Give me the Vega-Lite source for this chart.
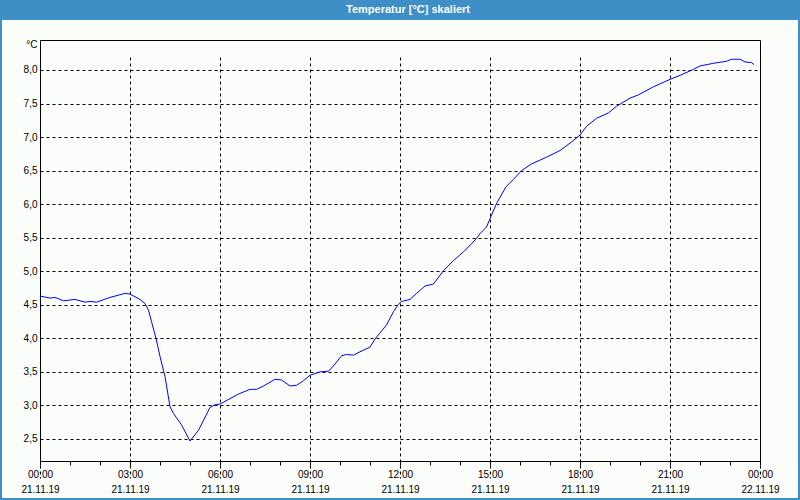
{
  "$schema": "https://vega.github.io/schema/vega-lite/v6.json",
  "width": 796,
  "height": 478,
  "autosize": {"type": "none"},
  "padding": {"left": 2, "top": 20, "right": 2, "bottom": 2},
  "background": "#3d8fc6",
  "config": {
    "view": {"fill": "#fbfdfb", "stroke": null},
    "font": "Liberation Sans"
  },
  "title": {
    "text": "Temperatur [°C] skaliert",
    "color": "#ffffff",
    "font": "Liberation Sans",
    "fontSize": 11,
    "fontWeight": "bold",
    "anchor": "middle",
    "frame": "group",
    "offset": 5,
    "dx": 8
  },
  "data": {
    "values": [
      {"t": "2019-11-21T00:00", "v": 4.63},
      {"t": "2019-11-21T00:20", "v": 4.60},
      {"t": "2019-11-21T00:30", "v": 4.61},
      {"t": "2019-11-21T00:47", "v": 4.56},
      {"t": "2019-11-21T01:10", "v": 4.58},
      {"t": "2019-11-21T01:30", "v": 4.54},
      {"t": "2019-11-21T01:40", "v": 4.55},
      {"t": "2019-11-21T01:53", "v": 4.54},
      {"t": "2019-11-21T02:20", "v": 4.61},
      {"t": "2019-11-21T02:50", "v": 4.67},
      {"t": "2019-11-21T03:00", "v": 4.66},
      {"t": "2019-11-21T03:20", "v": 4.58},
      {"t": "2019-11-21T03:30", "v": 4.52},
      {"t": "2019-11-21T03:37", "v": 4.42},
      {"t": "2019-11-21T03:43", "v": 4.25},
      {"t": "2019-11-21T03:52", "v": 4.00},
      {"t": "2019-11-21T04:00", "v": 3.73},
      {"t": "2019-11-21T04:10", "v": 3.43},
      {"t": "2019-11-21T04:20", "v": 2.98},
      {"t": "2019-11-21T04:27", "v": 2.88},
      {"t": "2019-11-21T04:43", "v": 2.71},
      {"t": "2019-11-21T05:00", "v": 2.47},
      {"t": "2019-11-21T05:17", "v": 2.63},
      {"t": "2019-11-21T05:40", "v": 2.97},
      {"t": "2019-11-21T05:50", "v": 3.01},
      {"t": "2019-11-21T06:00", "v": 3.02},
      {"t": "2019-11-21T06:37", "v": 3.17},
      {"t": "2019-11-21T07:00", "v": 3.24},
      {"t": "2019-11-21T07:13", "v": 3.24},
      {"t": "2019-11-21T07:27", "v": 3.29},
      {"t": "2019-11-21T07:50", "v": 3.39},
      {"t": "2019-11-21T08:03", "v": 3.38},
      {"t": "2019-11-21T08:20", "v": 3.29},
      {"t": "2019-11-21T08:33", "v": 3.30},
      {"t": "2019-11-21T08:47", "v": 3.37},
      {"t": "2019-11-21T09:00", "v": 3.45},
      {"t": "2019-11-21T09:20", "v": 3.50},
      {"t": "2019-11-21T09:37", "v": 3.51},
      {"t": "2019-11-21T09:47", "v": 3.59},
      {"t": "2019-11-21T10:03", "v": 3.74},
      {"t": "2019-11-21T10:13", "v": 3.76},
      {"t": "2019-11-21T10:27", "v": 3.75},
      {"t": "2019-11-21T10:40", "v": 3.80},
      {"t": "2019-11-21T11:00", "v": 3.87},
      {"t": "2019-11-21T11:10", "v": 3.99},
      {"t": "2019-11-21T11:33", "v": 4.20},
      {"t": "2019-11-21T11:47", "v": 4.40},
      {"t": "2019-11-21T11:57", "v": 4.51},
      {"t": "2019-11-21T12:03", "v": 4.55},
      {"t": "2019-11-21T12:20", "v": 4.58},
      {"t": "2019-11-21T12:33", "v": 4.67},
      {"t": "2019-11-21T12:50", "v": 4.78},
      {"t": "2019-11-21T13:07", "v": 4.81},
      {"t": "2019-11-21T13:27", "v": 5.01},
      {"t": "2019-11-21T13:47", "v": 5.16},
      {"t": "2019-11-21T14:07", "v": 5.29},
      {"t": "2019-11-21T14:23", "v": 5.41},
      {"t": "2019-11-21T14:33", "v": 5.49},
      {"t": "2019-11-21T14:40", "v": 5.56},
      {"t": "2019-11-21T14:53", "v": 5.66},
      {"t": "2019-11-21T15:13", "v": 6.01},
      {"t": "2019-11-21T15:32", "v": 6.26},
      {"t": "2019-11-21T15:47", "v": 6.37},
      {"t": "2019-11-21T16:03", "v": 6.50},
      {"t": "2019-11-21T16:23", "v": 6.60},
      {"t": "2019-11-21T16:53", "v": 6.70},
      {"t": "2019-11-21T17:20", "v": 6.80},
      {"t": "2019-11-21T17:40", "v": 6.91},
      {"t": "2019-11-21T18:00", "v": 7.03},
      {"t": "2019-11-21T18:13", "v": 7.16},
      {"t": "2019-11-21T18:33", "v": 7.28},
      {"t": "2019-11-21T18:57", "v": 7.36},
      {"t": "2019-11-21T19:13", "v": 7.46},
      {"t": "2019-11-21T19:40", "v": 7.58},
      {"t": "2019-11-21T19:57", "v": 7.63},
      {"t": "2019-11-21T20:27", "v": 7.75},
      {"t": "2019-11-21T21:00", "v": 7.86},
      {"t": "2019-11-21T21:20", "v": 7.92},
      {"t": "2019-11-21T21:47", "v": 8.01},
      {"t": "2019-11-21T22:00", "v": 8.06},
      {"t": "2019-11-21T22:27", "v": 8.10},
      {"t": "2019-11-21T22:53", "v": 8.13},
      {"t": "2019-11-21T23:03", "v": 8.16},
      {"t": "2019-11-21T23:20", "v": 8.16},
      {"t": "2019-11-21T23:30", "v": 8.12},
      {"t": "2019-11-21T23:43", "v": 8.11},
      {"t": "2019-11-21T23:48", "v": 8.08}
    ]
  },
  "resolve": {"axis": {"x": "independent", "y": "independent"}},
  "layer": [
    {
      "mark": {"type": "line", "color": "#0000ff", "strokeWidth": 1},
      "encoding": {
        "x": {
          "field": "t",
          "type": "temporal",
          "scale": {
            "domain": [
              {"year": 2019, "month": 11, "date": 21, "hours": 0},
              {"year": 2019, "month": 11, "date": 22, "hours": 0}
            ],
            "range": [38, 758],
            "nice": false
          },
          "axis": {
            "orient": "bottom",
            "offset": -37,
            "values": [
              {"year": 2019, "month": 11, "date": 21, "hours": 0},
              {"year": 2019, "month": 11, "date": 21, "hours": 3},
              {"year": 2019, "month": 11, "date": 21, "hours": 6},
              {"year": 2019, "month": 11, "date": 21, "hours": 9},
              {"year": 2019, "month": 11, "date": 21, "hours": 12},
              {"year": 2019, "month": 11, "date": 21, "hours": 15},
              {"year": 2019, "month": 11, "date": 21, "hours": 18},
              {"year": 2019, "month": 11, "date": 21, "hours": 21},
              {"year": 2019, "month": 11, "date": 22, "hours": 0}
            ],
            "labelExpr": "[timeFormat(datum.value, '%H:%M'), timeFormat(datum.value, '%d.%m.%y')]",
            "labelFlush": false,
            "labelOverlap": false,
            "labelBound": false,
            "labelAngle": 0,
            "labelAlign": "center",
            "labelBaseline": "top",
            "labelPadding": 4,
            "labelLineHeight": 15,
            "labelFont": "Liberation Sans",
            "labelFontSize": 10,
            "labelColor": "#000000",
            "ticks": true,
            "tickSize": 4,
            "tickColor": "#000000",
            "tickWidth": 1,
            "domain": true,
            "domainColor": "#000000",
            "domainWidth": 1,
            "grid": true,
            "gridColor": "#000000",
            "gridWidth": 1,
            "gridDash": [3, 3],
            "gridOpacity": 1,
            "title": null
          }
        },
        "y": {
          "field": "v",
          "type": "quantitative",
          "scale": {"domain": [2.172, 8.447], "range": [441, 20], "zero": false, "nice": false},
          "axis": {
            "orient": "left",
            "offset": -38,
            "values": [2.5, 3, 3.5, 4, 4.5, 5, 5.5, 6, 6.5, 7, 7.5, 8],
            "labelExpr": "replace(format(datum.value, '.1f'), '.', ',')",
            "labelFont": "Liberation Sans",
            "labelFontSize": 10,
            "labelColor": "#000000",
            "labelPadding": 3,
            "labelBaseline": "middle",
            "ticks": false,
            "domain": true,
            "domainColor": "#000000",
            "domainWidth": 1,
            "grid": true,
            "gridColor": "#000000",
            "gridWidth": 1,
            "gridDash": [3, 3],
            "gridOpacity": 1,
            "title": "°C",
            "titleAngle": 0,
            "titleX": -3,
            "titleY": 24,
            "titleAlign": "right",
            "titleBaseline": "middle",
            "titleFont": "Liberation Sans",
            "titleFontSize": 10,
            "titleFontWeight": "normal",
            "titleColor": "#000000"
          }
        }
      }
    },
    {
      "mark": {"type": "line", "strokeOpacity": 0},
      "encoding": {
        "x": {
          "field": "t",
          "type": "temporal",
          "axis": {
            "orient": "bottom",
            "offset": -37,
            "values": [
              {"year": 2019, "month": 11, "date": 21, "hours": 1},
              {"year": 2019, "month": 11, "date": 21, "hours": 2},
              {"year": 2019, "month": 11, "date": 21, "hours": 4},
              {"year": 2019, "month": 11, "date": 21, "hours": 5},
              {"year": 2019, "month": 11, "date": 21, "hours": 7},
              {"year": 2019, "month": 11, "date": 21, "hours": 8},
              {"year": 2019, "month": 11, "date": 21, "hours": 10},
              {"year": 2019, "month": 11, "date": 21, "hours": 11},
              {"year": 2019, "month": 11, "date": 21, "hours": 13},
              {"year": 2019, "month": 11, "date": 21, "hours": 14},
              {"year": 2019, "month": 11, "date": 21, "hours": 16},
              {"year": 2019, "month": 11, "date": 21, "hours": 17},
              {"year": 2019, "month": 11, "date": 21, "hours": 19},
              {"year": 2019, "month": 11, "date": 21, "hours": 20},
              {"year": 2019, "month": 11, "date": 21, "hours": 22},
              {"year": 2019, "month": 11, "date": 21, "hours": 23}
            ],
            "domain": false,
            "labels": false,
            "ticks": true,
            "tickSize": 4,
            "tickColor": "#000000",
            "tickWidth": 1,
            "grid": false,
            "title": null
          }
        },
        "y": {
          "field": "v",
          "type": "quantitative",
          "axis": {
            "orient": "right",
            "offset": -38,
            "domain": true,
            "domainColor": "#000000",
            "domainWidth": 1,
            "ticks": false,
            "labels": false,
            "grid": false,
            "title": null
          }
        }
      }
    },
    {
      "mark": {"type": "line", "strokeOpacity": 0},
      "encoding": {
        "x": {
          "field": "t",
          "type": "temporal",
          "axis": {
            "orient": "top",
            "offset": -20,
            "domain": true,
            "domainColor": "#000000",
            "domainWidth": 1,
            "ticks": false,
            "labels": false,
            "grid": false,
            "title": null
          }
        },
        "y": {"field": "v", "type": "quantitative", "axis": null}
      }
    }
  ]
}
